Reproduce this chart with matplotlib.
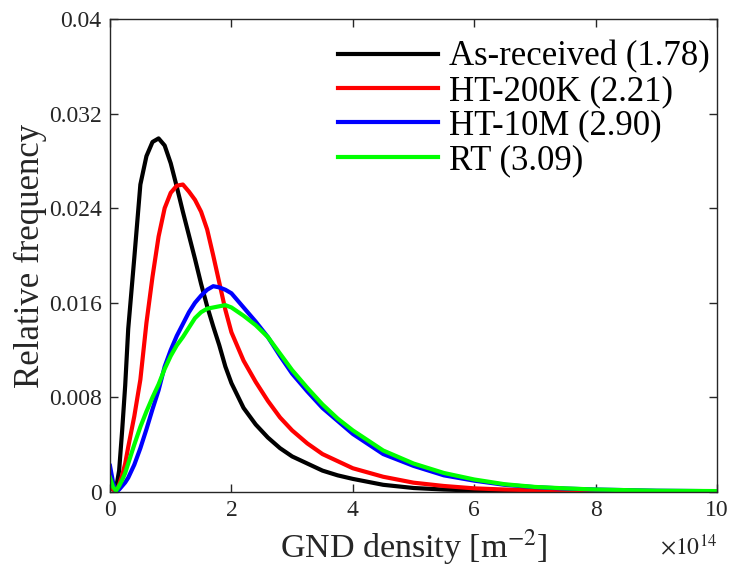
import matplotlib.pyplot as plt
import numpy as np
from matplotlib.ticker import FuncFormatter

plt.rcParams['font.family'] = ['Liberation Serif', 'DejaVu Serif']
plt.rcParams['mathtext.fontset'] = 'stix'

# GND density in units of 1e14 m^-2
gnd = [0, 0.05, 0.1, 0.15, 0.2, 0.25, 0.3, 0.4, 0.5, 0.6, 0.7, 0.8, 0.9, 1.0,
       1.1, 1.2, 1.3, 1.4, 1.5, 1.6, 1.7, 1.8, 1.9, 2.0, 2.2, 2.4, 2.6, 2.8,
       3.0, 3.25, 3.5, 3.75, 4.0, 4.5, 5.0, 5.5, 6.0, 6.5, 7.0, 7.5, 8.0, 9.0, 10.0]

as_received = [0.0004, 0.0002, 0.0003, 0.0018, 0.0052, 0.0090, 0.0138, 0.0198, 0.0260, 0.0284,
               0.0296, 0.0299, 0.0293, 0.0278, 0.0258, 0.0237, 0.0217, 0.0197, 0.0176, 0.0157,
               0.0140, 0.0124, 0.0106, 0.0092, 0.0071, 0.0057, 0.0046, 0.0037, 0.0030, 0.0024,
               0.0018, 0.0014, 0.0011, 0.0006, 0.00033, 0.0002, 0.00012, 0.00008, 0.00005,
               0.00003, 0.00002, 0.00001, 0.00001]
ht_200k = [0.0008, 0.0002, 0.0001, 0.0006, 0.0014, 0.0024, 0.0038, 0.0064, 0.0095, 0.0143,
           0.0182, 0.0216, 0.0240, 0.0253, 0.0259, 0.0260, 0.0254, 0.0247, 0.0237, 0.0222,
           0.0200, 0.0177, 0.0154, 0.0135, 0.0111, 0.0093, 0.0077, 0.0063, 0.0052, 0.0041,
           0.0032, 0.0026, 0.0020, 0.00128, 0.00078, 0.0005, 0.0003, 0.0002, 0.00014,
           0.0001, 0.00007, 0.00003, 0.00002]
ht_10m = [0.0022, 0.0008, 0.0000, 0.0002, 0.0005, 0.0008, 0.0012, 0.0023, 0.0037, 0.0053,
          0.0070, 0.0086, 0.0106, 0.0120, 0.0132, 0.0142, 0.0152, 0.0160, 0.0166, 0.0171,
          0.0174, 0.0173, 0.0171, 0.0168, 0.0156, 0.0144, 0.0131, 0.0115, 0.0100, 0.0085,
          0.0071, 0.0060, 0.0049, 0.0032, 0.0022, 0.0014, 0.00095, 0.0006, 0.0004,
          0.00028, 0.0002, 0.0001, 0.00006]
rt = [0.0012, 0.0004, 0.0001, 0.0005, 0.0010, 0.0016, 0.0024, 0.0040, 0.0055, 0.0068,
      0.0080, 0.0091, 0.0104, 0.0115, 0.0124, 0.0131, 0.0139, 0.0147, 0.0152, 0.0155,
      0.0156, 0.0157, 0.0158, 0.0156, 0.0149, 0.0141, 0.0131, 0.0117, 0.0103, 0.0088,
      0.0074, 0.0062, 0.0052, 0.0035, 0.0024, 0.0016, 0.00105, 0.00065, 0.00042,
      0.0003, 0.0002, 0.0001, 0.00007]

labels = ['As-received (1.78)', 'HT-200K (2.21)', 'HT-10M (2.90)', 'RT (3.09)']
colors = ['#000000', '#ff0000', '#0000ff', '#00ff00']

fig = plt.figure(figsize=(7.31, 5.76), dpi=100)
ax = fig.add_axes([0.1505, 0.146, 0.8305, 0.821])

for ys, lab, c in zip([as_received, ht_200k, ht_10m, rt], labels, colors):
    ax.plot(gnd, ys, color=c, lw=3, label=lab)

ax.set_xlim(0, 10)
ax.set_ylim(0, 0.04)
ax.set_xticks([0, 2, 4, 6, 8, 10])
ax.set_yticks([0, 0.008, 0.016, 0.024, 0.032, 0.04])
ax.yaxis.set_major_formatter(FuncFormatter(lambda v, p: '%g' % v))
ax.tick_params(direction='in', length=6, width=1, top=True, right=True,
               labelsize=17, colors='#262626', pad=6)
for s in ax.spines.values():
    s.set_color('#262626')
    s.set_linewidth(1)

ax.set_xlabel('GND density [m$^{-2}$]', fontsize=24.5, color='#262626', labelpad=5)
ax.set_ylabel('Relative frequency', fontsize=25, color='#262626', labelpad=1)
ax.text(1.0, -0.133, r'$\times10^{14}$', transform=ax.transAxes, ha='right',
        va='baseline', fontsize=17, color='#262626')

ax.legend(loc='upper right', bbox_to_anchor=(1.0, 0.969), frameon=False,
          fontsize=25, handlelength=2.9, labelspacing=0.04, handletextpad=0.32,
          borderaxespad=0, borderpad=0.2)

plt.savefig('out.png', dpi=100)
